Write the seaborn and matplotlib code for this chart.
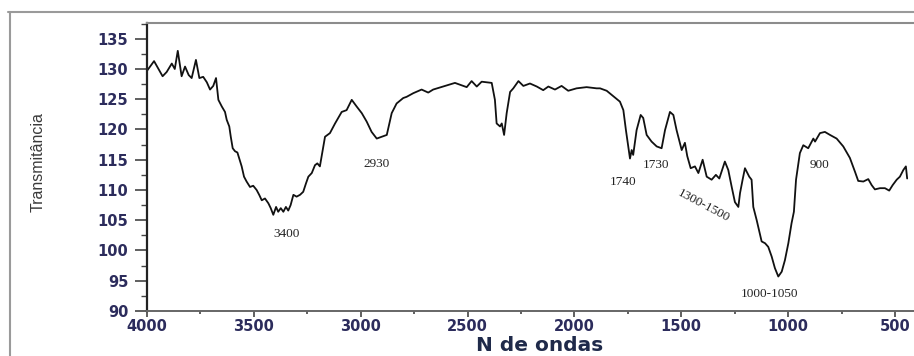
import matplotlib
matplotlib.use("Agg")
import matplotlib.pyplot as plt
from matplotlib.lines import Line2D
from matplotlib.ticker import MultipleLocator
import seaborn as sns
import pandas as pd

# FTIR spectrum: wavenumber (cm-1) and transmittance
wavenumber = [
    4000, 3967, 3927, 3908, 3884, 3870, 3856, 3838, 3822, 3805, 3791, 3771, 3755,
    3737, 3720, 3705, 3690, 3677, 3666, 3650, 3635, 3627, 3615, 3608, 3599, 3588,
    3577, 3568, 3557, 3546, 3534, 3518, 3503, 3487, 3475, 3463, 3448, 3432, 3421,
    3409, 3396, 3386, 3374, 3362, 3350, 3339, 3328, 3315, 3300, 3284, 3269, 3256,
    3245, 3229, 3214, 3203, 3191, 3167, 3144, 3120, 3089, 3066, 3042, 3019, 2995,
    2972, 2949, 2925, 2902, 2878, 2855, 2832, 2801, 2785, 2754, 2715, 2684, 2661,
    2614, 2559, 2520, 2504, 2481, 2457, 2434, 2387, 2372, 2364, 2348, 2340, 2329,
    2317, 2301, 2286, 2262, 2239, 2208, 2176, 2146, 2122, 2091, 2060, 2029, 1990,
    1943, 1896, 1880, 1849, 1818, 1787, 1771, 1759, 1748, 1740, 1732, 1725, 1709,
    1690, 1678, 1662, 1639, 1615, 1592, 1576, 1553, 1537, 1522, 1498, 1483, 1472,
    1456, 1436, 1420, 1400, 1381, 1358, 1338, 1322, 1296, 1280, 1264, 1249, 1233,
    1225, 1213, 1202, 1182, 1171, 1163, 1147, 1124, 1108, 1093, 1077, 1062, 1046,
    1030, 1015, 999, 984, 973, 963, 945, 929, 906, 882, 874, 851, 828, 804, 773,
    742, 711, 687, 672, 648, 625, 609, 594, 570, 547, 527, 511, 492, 477, 461,
    449, 443,
]
transmittance = [
    129.7, 131.3, 128.8, 129.5, 130.9, 130.0, 133.0, 128.8, 130.4, 129.0, 128.5,
    131.5, 128.5, 128.7, 127.8, 126.6, 127.2, 128.5, 124.9, 123.8, 122.9, 121.6,
    120.5, 118.8, 116.9, 116.4, 116.2, 115.2, 113.9, 112.2, 111.4, 110.5, 110.7,
    110.0, 109.2, 108.3, 108.6, 107.8, 107.0, 105.9, 107.2, 106.4, 107.0, 106.4,
    107.2, 106.6, 107.5, 109.2, 108.9, 109.2, 109.7, 111.1, 112.2, 112.8, 114.1,
    114.4, 113.9, 118.8, 119.4, 121.0, 122.9, 123.2, 124.9, 123.8, 122.7, 121.3,
    119.6, 118.5, 118.8, 119.1, 122.7, 124.3, 125.2, 125.4, 126.0, 126.6, 126.1,
    126.6, 127.1, 127.7, 127.2, 127.0, 128.0, 127.1, 127.9, 127.7, 124.9, 121.0,
    120.5, 121.0, 119.1, 122.7, 126.2, 126.8, 128.0, 127.2, 127.6, 127.1, 126.5,
    127.1, 126.6, 127.2, 126.4, 126.8, 127.0, 126.8, 126.8, 126.4, 125.5, 124.6,
    123.2, 119.9, 117.2, 115.2, 116.6, 115.8, 119.9, 122.4, 121.9, 119.1, 118.0,
    117.2, 116.9, 119.9, 122.9, 122.4, 119.9, 116.6, 117.8, 115.6, 113.6, 113.9,
    112.8, 115.0, 112.2, 111.7, 112.5, 111.9, 114.7, 113.3, 110.5, 108.0, 107.2,
    109.5, 111.7, 113.6, 112.2, 111.7, 107.2, 105.0, 101.5, 101.2, 100.6, 99.0,
    97.1, 95.7, 96.5, 98.4, 101.2, 104.5, 106.4, 111.7, 116.1, 117.4, 116.9,
    118.5, 118.0, 119.4, 119.6, 119.1, 118.5, 117.2, 115.3, 113.0, 111.5, 111.4,
    111.8, 110.8, 110.1, 110.3, 110.3, 109.9, 110.8, 111.7, 112.2, 113.3, 113.9,
    111.9,
]

# Band assignments written next to the spectrum
band_labels = ["3400", "2930", "1740", "1730", "1300-1500", "1000-1050", "900"]
label_x = [3345, 2924, 1773, 1618, 1398, 1085, 851]
label_y = [102.7, 114.3, 111.3, 114.1, 107.4, 92.8, 114.1]
label_rot = [0, 0, 0, 0, -28, 0, 0]

df = pd.DataFrame({"wavenumber": wavenumber, "transmittance": transmittance})

sns.set_style("ticks")
fig = plt.figure(figsize=(9.14, 3.56), dpi=100)
ax = fig.add_axes([147 / 914, 45 / 356, 767 / 914, 288 / 356])

sns.lineplot(data=df, x="wavenumber", y="transmittance", ax=ax,
             estimator=None, sort=True, color="#111111", linewidth=1.3)

ax.set_xlim(4000, 411)
ax.set_ylim(90, 137.6)
ax.xaxis.set_major_locator(MultipleLocator(500))
ax.xaxis.set_minor_locator(MultipleLocator(250))
ax.yaxis.set_major_locator(MultipleLocator(5))
ax.yaxis.set_minor_locator(MultipleLocator(2.5))

tick_color = "#2c2c5c"
ax.tick_params(axis="y", which="major", direction="out", length=8.5, width=1.2,
               pad=5, color="#444444", labelcolor=tick_color)
ax.tick_params(axis="y", which="minor", direction="out", length=4, width=1.0,
               color="#444444")
ax.tick_params(axis="x", which="major", direction="out", length=4, width=1.2,
               pad=2, color="#444444", labelcolor=tick_color)
ax.tick_params(axis="x", which="minor", direction="out", length=2, width=1.2,
               color="#444444")
for lab in ax.get_xticklabels() + ax.get_yticklabels():
    lab.set_fontfamily("DejaVu Sans")
    lab.set_fontweight("bold")
    lab.set_fontsize(10.5)

ax.spines["left"].set_color("#222222")
ax.spines["left"].set_linewidth(1.6)
ax.spines["bottom"].set_color("#666666")
ax.spines["bottom"].set_linewidth(1.4)
ax.spines["top"].set_color("#8c8c8c")
ax.spines["top"].set_linewidth(1.5)
ax.spines["right"].set_visible(False)

ax.set_xlabel("N de ondas", fontsize=14.5, fontweight="bold",
              color="#1f2a4a", family="DejaVu Sans")
ax.xaxis.set_label_coords(0.512, -0.088)
ax.set_ylabel("Transmitância", fontsize=11.5, color="#3a3a3a",
              family="Liberation Sans")
ax.yaxis.label.set_va("center")
ax.yaxis.set_label_coords(-0.142, 0.517)

for text, x, y, rot in zip(band_labels, label_x, label_y, label_rot):
    ax.text(x, y, text, ha="center", va="center", rotation=rot,
            fontsize=9.5, color="#222222", family="Liberation Serif")

# thin outer frame around the plot region
fig.add_artist(Line2D([8 / 914, 1.0], [1 - 12 / 356, 1 - 12 / 356],
                      transform=fig.transFigure, color="#9a9a9a", linewidth=1.5))
fig.add_artist(Line2D([10 / 914, 10 / 914], [0.0, 1 - 12 / 356],
                      transform=fig.transFigure, color="#9a9a9a", linewidth=1.5))

fig.savefig("out.png", dpi=100, facecolor="white")
